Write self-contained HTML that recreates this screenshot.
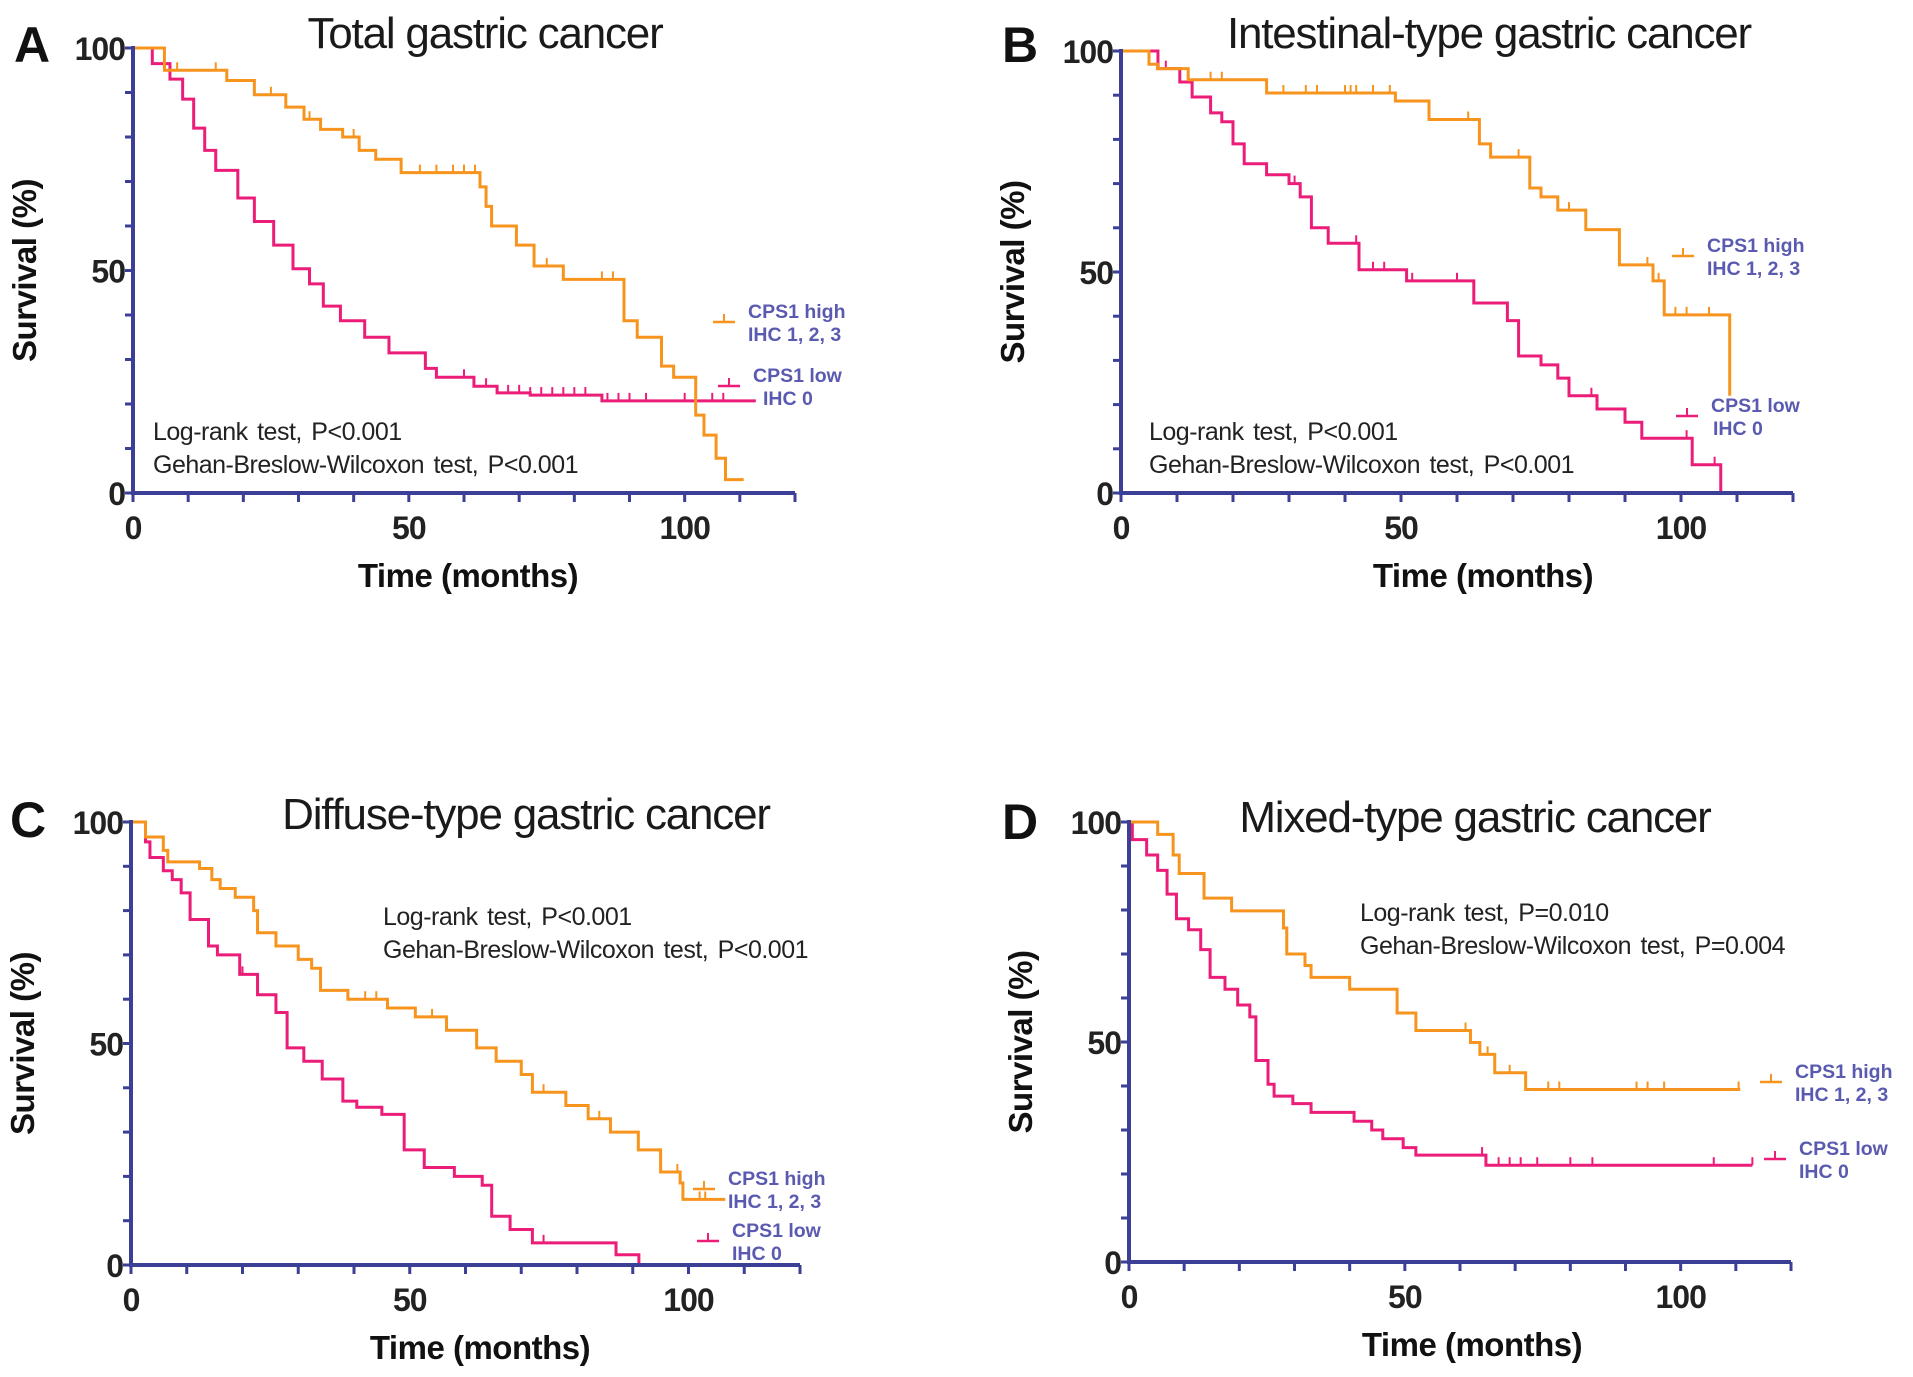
<!DOCTYPE html>
<html><head><meta charset="utf-8"><style>
html,body{margin:0;padding:0;background:#fff;}
svg{display:block;font-family:"Liberation Sans",Arial,sans-serif;}
.ttl{font-size:44px;letter-spacing:-1.2px;fill:#1a1a1a;}
.let{font-size:50px;font-weight:bold;fill:#111;}
.tk{font-size:32px;font-weight:bold;fill:#222;letter-spacing:-1px;}
.ax{font-size:33px;font-weight:bold;fill:#111;letter-spacing:-0.5px;}
.st{font-size:25px;fill:#222;letter-spacing:-0.5px;word-spacing:3px;}
.lg{font-size:19.5px;font-weight:bold;fill:#5a5ab0;}
</style></head><body>
<svg id="fig" width="1913" height="1377" viewBox="0 0 1913 1377" xmlns="http://www.w3.org/2000/svg"></svg>
<script>
// ---- Panel A data (months, survival %) ----
const aHighT=[0,5.7,12,17,22,27.7,31,34,38,41,44,48.6,53.5,62.9,64,65,69.5,72.7,78,84,89,91.4,95.8,98,102,103.5,105.7,107.4,109,110.7];
const aHighS=[100,95,95,92.7,89.5,86.7,84,81.7,80,77,75,72,72,68.8,64.4,60,55.7,51,48,48,38.7,35,28.5,26,17.5,13,7.8,3,3,3];
const aLowT=[0,3.5,6.7,9,11,13,15,19,22,25.5,29,32,34.5,37.6,42,46.4,53,55,61.8,66,72,85,112.9];
const aLowS=[100,96.5,93,88.5,82,77,72.5,66.3,61,55.7,50.4,47,42,38.7,35,31.5,28,26,24,22.5,22,20.7,20.7];
const aHighC=[8,15,25,32,40,52,55,58,60,62,75,85,87];
const aLowC=[60,64,68,70,72,74,76,78,80,82,86,88,90,93,100,105,107];
// ---- Panel B data ----
const bHighT=[0,5,6.5,12,26,49,55,64,66,70,73,75,78,83,89,95,97,108.6,108.7];
const bHighS=[100,97,96,93.5,90.5,88.7,84.5,79,76,76,69,67,64,59.6,51.6,48,40.3,40.3,22];
const bLowT=[0,6.6,10.5,12.7,16,18,20,22,26,30,32,34,37,42.5,51,63,69,71,75,78,80,85,90,93,102,107,107.1];
const bLowS=[100,96,93,89.6,86,84,79,74.5,72,70,67,60,56.5,50.5,48,43,39,31,29,26,22,19,16,12.4,6.4,6.4,0];
const bHighC=[16,18,29,33,35,40,41,42,45,48,62,71,80,94,96,99,101,105];
const bLowC=[8,12,31,42,45,47,52,60,84,90,101,106];
// ---- Panel C data ----
const cHighT=[0,2.6,5.8,6.6,12.3,14.5,16,18.7,22,22.7,26,30,32.4,34,38.9,46,51,56.6,62,65.5,70,72,78,82,86,91,95,98.5,99,106.6];
const cHighS=[100,96.6,93.6,91,89.5,87,85,83,80,75,72,69,67,62,60,58,56,53,49,46,43,39,36,33,30,26,21,18.5,14.8,14.8];
const cLowT=[0,2.6,3.4,5.8,7.4,9,10.6,13.9,15.5,19.5,22.7,26,28,31,34.3,38,40.5,45,49,52.6,58,63,64.7,68,72,87,91,91.1];
const cLowS=[100,95.5,92,89,87,84,78,72,70,65.6,61,57,49,46,42,37,35.6,34,26,22,20,18,11,8,5,2.3,2.3,0];
const cHighC=[16,42,44,54,62,70,74,84,98,102,103];
const cLowC=[20,74];
// ---- Panel D data ----
const dHighT=[0,5.2,8,9.1,13.6,18.6,28,28.6,31.9,33,40,48.6,52,61.9,63.6,66.3,71.9,110.8];
const dHighS=[100,97.2,92.5,88.3,82.7,79.8,75.9,70,67.4,64.7,62,56.6,52.6,49.9,47.2,43,39.2,39.2];
const dLowT=[0,0.6,3.2,5.2,6.9,8.6,10.8,13,14.7,17.4,19.7,21.9,23,25.2,26.3,29.7,33,40.8,44,46,49.7,52,64.7,113];
const dLowS=[100,96,92.5,89,83.6,78,75.5,71,64.7,62,58.4,55.7,45.8,40.4,37.7,36,34,32,30,28,26,24.3,22,22];
const dHighC=[61,65,69,76,78,92,94,97,110.5];
const dLowC=[64,67,69,71,74,80,84,106,113];
// ---- Axis ticks ----
const xTickLabels=[0,50,100];
const yTickLabels=[0,50,100];
const xMinor=[0,10,20,30,40,50,60,70,80,90,100,110,120];
const yMinor=[0,10,20,30,40,50,60,70,80,90,100];

const NS="http://www.w3.org/2000/svg";
const svg=document.getElementById('fig');
const ORANGE="#f7941d",PINK="#ec1c79",AXIS="#3b3f96";
function mk(tag,attrs,parent,text){const e=document.createElementNS(NS,tag);for(const k in attrs)e.setAttribute(k,attrs[k]);if(text!==undefined)e.textContent=text;(parent||svg).appendChild(e);return e;}

function panel(cfg){
  const g=mk('g',{});
  
  
  const X=t=>cfg.x0+t*(cfg.xe-cfg.x0)/120;
  const Y=s=>cfg.y0-s*(cfg.y0-cfg.y100)/100;
  function series(T,S,C,color,name){
    let d='M'+X(T[0])+','+Y(S[0]);
    for(let i=1;i<T.length;i++){d+=' H'+X(T[i])+' V'+Y(S[i]);}
    const p=mk('path',{d:d,fill:'none',stroke:color,'stroke-width':3},g);
    
    
    C.forEach(c=>{
      let s=S[0];for(let i=0;i<T.length;i++){if(T[i]<=c)s=S[i];}
      const l=mk('line',{x1:X(c),x2:X(c),y1:Y(s),y2:Y(s)-8,stroke:color,'stroke-width':2},g);
      
      
    });
  }
  series(cfg.lowT,cfg.lowS,cfg.lowC,PINK,'cps1-low');
  series(cfg.highT,cfg.highS,cfg.highC,ORANGE,'cps1-high');
  const ya=mk('line',{x1:cfg.x0,x2:cfg.x0,y1:cfg.y100-2,y2:cfg.y0+2,stroke:AXIS,'stroke-width':4},g);
  
  const xa=mk('line',{x1:cfg.x0-2,x2:cfg.xe,y1:cfg.y0,y2:cfg.y0,stroke:AXIS,'stroke-width':4},g);
  
  xMinor.forEach(t=>{const l=mk('line',{x1:X(t),x2:X(t),y1:cfg.y0,y2:cfg.y0+9,stroke:AXIS,'stroke-width':3},g);
    });
  yMinor.forEach(s=>{const l=mk('line',{x1:cfg.x0-8,x2:cfg.x0,y1:Y(s),y2:Y(s),stroke:AXIS,'stroke-width':3},g);
    });
  xTickLabels.forEach(t=>{const e=mk('text',{x:X(t),y:cfg.y0+46,'text-anchor':'middle','class':'tk'},g,String(t));
    });
  yTickLabels.forEach(s=>{const e=mk('text',{x:cfg.x0-8,y:Y(s)+12,'text-anchor':'end','class':'tk'},g,String(s));
    });
  const xt=mk('text',{x:cfg.xtx,y:cfg.y0+94,'text-anchor':'middle','class':'ax'},g,'Time (months)');
  
  const yx=cfg.x0-97, yy=(cfg.y0+cfg.y100)/2;
  const yt=mk('text',{x:yx,y:yy,'text-anchor':'middle','class':'ax',transform:'rotate(-90 '+yx+' '+yy+')'},g,'Survival (%)');
  
  const tt=mk('text',{x:cfg.tx,y:cfg.ty,'text-anchor':'middle','class':'ttl'},g,cfg.title);
  
  const lt=mk('text',{x:cfg.lx,y:cfg.ly,'class':'let'},g,cfg.id);
  
  const s1=mk('text',{x:cfg.sx,y:cfg.sy,'class':'st'},g,cfg.s1);
  
  const s2=mk('text',{x:cfg.sx,y:cfg.sy+33,'class':'st'},g,cfg.s2);
  
  function leg(x,y,tx,ty,color,l1,l2,name){
    const a=mk('line',{x1:x,x2:x+22,y1:y,y2:y,stroke:color,'stroke-width':2.6},g);
    
    const b=mk('line',{x1:x+11,x2:x+11,y1:y,y2:y-8,stroke:color,'stroke-width':2},g);
    
    const t1=mk('text',{x:tx,y:ty,'class':'lg'},g,l1);
    
    const t2=mk('text',{x:tx+(l2==='IHC 0'?cfg.ihc0dx:0),y:ty+23,'class':'lg'},g,l2);
    
  }
  leg(cfg.hx,cfg.hy,cfg.hx+35,cfg.hy-4,ORANGE,'CPS1 high','IHC 1, 2, 3','cps1-high');
  leg(cfg.lwx,cfg.lwy,cfg.lwx+35,cfg.lwy-4,PINK,'CPS1 low','IHC 0','cps1-low');
}

panel({id:'A',x0:133,xe:795,y0:493,y100:48,title:'Total gastric cancer',tx:485,ty:48,lx:14,ly:62,
  xtx:468,sx:153,sy:440,s1:'Log-rank test,  P<0.001',s2:'Gehan-Breslow-Wilcoxon test,  P<0.001',
  hx:713,hy:322,lwx:718,lwy:386,ihc0dx:10,
  highT:aHighT,highS:aHighS,highC:aHighC,lowT:aLowT,lowS:aLowS,lowC:aLowC});
panel({id:'B',x0:1121,xe:1793,y0:493,y100:51,title:'Intestinal-type gastric cancer',tx:1489,ty:48,lx:1002,ly:62,
  xtx:1483,sx:1149,sy:440,s1:'Log-rank test,  P<0.001',s2:'Gehan-Breslow-Wilcoxon test,  P<0.001',
  hx:1672,hy:256,lwx:1676,lwy:416,ihc0dx:2,
  highT:bHighT,highS:bHighS,highC:bHighC,lowT:bLowT,lowS:bLowS,lowC:bLowC});
panel({id:'C',x0:131,xe:800,y0:1265,y100:822,title:'Diffuse-type gastric cancer',tx:526,ty:829,lx:10,ly:837,
  xtx:480,sx:383,sy:925,s1:'Log-rank test,  P<0.001',s2:'Gehan-Breslow-Wilcoxon test,  P<0.001',
  hx:693,hy:1189,lwx:697,lwy:1241,ihc0dx:0,
  highT:cHighT,highS:cHighS,highC:cHighC,lowT:cLowT,lowS:cLowS,lowC:cLowC});
panel({id:'D',x0:1129,xe:1791,y0:1262,y100:822,title:'Mixed-type gastric cancer',tx:1475,ty:832,lx:1002,ly:839,
  xtx:1472,sx:1360,sy:921,s1:'Log-rank test,  P=0.010',s2:'Gehan-Breslow-Wilcoxon test,  P=0.004',
  hx:1760,hy:1082,lwx:1764,lwy:1159,ihc0dx:0,
  highT:dHighT,highS:dHighS,highC:dHighC,lowT:dLowT,lowS:dLowS,lowC:dLowC});
</script>
</body></html>
